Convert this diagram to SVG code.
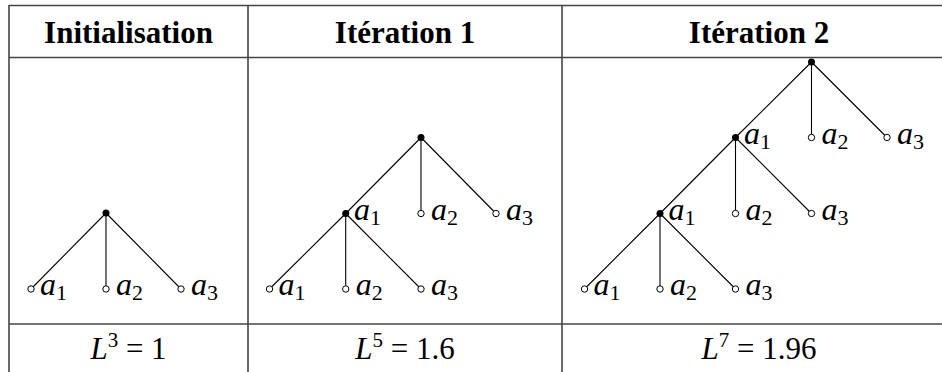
<svg xmlns="http://www.w3.org/2000/svg" width="942" height="372" viewBox="0 0 942 372">
<style>
.grid{stroke:#444;stroke-width:1.6;fill:none}
.hd{font-family:"Liberation Serif",serif;font-weight:bold;font-size:31px;text-anchor:middle;fill:#000}
.m{font-family:"Liberation Serif",serif;font-style:italic;font-size:32px;fill:#000}
.sub{font-style:normal;font-size:22px}
.ft{font-family:"Liberation Serif",serif;font-size:31px;text-anchor:middle;fill:#000}
.e{stroke:#000;stroke-width:1.1;fill:none}
.in{fill:#000}
.lf{fill:#fff;stroke:#000;stroke-width:1}
</style>
<g id="table">
<line class="grid" x1="9" y1="5.5" x2="942" y2="5.5"/>
<line class="grid" x1="9" y1="57.5" x2="942" y2="57.5"/>
<line class="grid" x1="9" y1="324" x2="942" y2="324"/>
<line class="grid" x1="9" y1="5" x2="9" y2="372"/>
<line class="grid" x1="248" y1="5" x2="248" y2="372"/>
<line class="grid" x1="562" y1="5" x2="562" y2="372"/>
</g>
<g id="headers">
<text class="hd" x="128.5" y="43">Initialisation</text>
<text class="hd" x="405" y="43">Itération 1</text>
<text class="hd" x="759" y="43">Itération 2</text>
</g>
<g id="connectors">
<path class="e" d="M106 213L31 289M106 213L106 289M106 213L181 289"/>
<path class="e" d="M421 137.5L345.7 213.5M421 137.5L421 213.5M421 137.5L496 213.5M345.7 213.5L269.5 289M345.7 213.5L345.7 289M345.7 213.5L421 289"/>
<path class="e" d="M811.5 62L735.5 137.5M811.5 62L811.5 137.5M811.5 62L887 137.5M735.5 137.5L660 213.5M735.5 137.5L735.5 213.5M735.5 137.5L811.5 213.5M660 213.5L584.5 289M660 213.5L660 289M660 213.5L735.5 289"/>
</g>
<g id="col1">
<g id="c1-root"><circle class="in" cx="106" cy="213" r="3.5"/></g>
<g id="c1-a1"><circle class="lf" cx="31" cy="289" r="3.2"/><text class="m" x="40" y="295">a<tspan class="sub" dy="5">1</tspan></text></g>
<g id="c1-a2"><circle class="lf" cx="106" cy="289" r="3.2"/><text class="m" x="116" y="295">a<tspan class="sub" dy="5">2</tspan></text></g>
<g id="c1-a3"><circle class="lf" cx="181" cy="289" r="3.2"/><text class="m" x="191" y="295">a<tspan class="sub" dy="5">3</tspan></text></g>
</g>
<g id="col2">
<g id="c2-root"><circle class="in" cx="421" cy="137.5" r="3.5"/></g>
<g id="c2-n1"><circle class="in" cx="345.7" cy="213.5" r="3.5"/><text class="m" x="354" y="219.5">a<tspan class="sub" dy="5">1</tspan></text></g>
<g id="c2-a2"><circle class="lf" cx="421" cy="213.5" r="3.2"/><text class="m" x="431" y="219.5">a<tspan class="sub" dy="5">2</tspan></text></g>
<g id="c2-a3"><circle class="lf" cx="496" cy="213.5" r="3.2"/><text class="m" x="506" y="219.5">a<tspan class="sub" dy="5">3</tspan></text></g>
<g id="c2-b1"><circle class="lf" cx="269.5" cy="289" r="3.2"/><text class="m" x="278.5" y="295">a<tspan class="sub" dy="5">1</tspan></text></g>
<g id="c2-b2"><circle class="lf" cx="345.7" cy="289" r="3.2"/><text class="m" x="355.7" y="295">a<tspan class="sub" dy="5">2</tspan></text></g>
<g id="c2-b3"><circle class="lf" cx="421" cy="289" r="3.2"/><text class="m" x="431" y="295">a<tspan class="sub" dy="5">3</tspan></text></g>
</g>
<g id="col3">
<g id="c3-root"><circle class="in" cx="811.5" cy="62" r="3.5"/></g>
<g id="c3-n1"><circle class="in" cx="735.5" cy="137.5" r="3.5"/><text class="m" x="744" y="143.5">a<tspan class="sub" dy="5">1</tspan></text></g>
<g id="c3-a2"><circle class="lf" cx="811.5" cy="137.5" r="3.2"/><text class="m" x="821.5" y="143.5">a<tspan class="sub" dy="5">2</tspan></text></g>
<g id="c3-a3"><circle class="lf" cx="887" cy="137.5" r="3.2"/><text class="m" x="897" y="143.5">a<tspan class="sub" dy="5">3</tspan></text></g>
<g id="c3-n2"><circle class="in" cx="660" cy="213.5" r="3.5"/><text class="m" x="668.5" y="219.5">a<tspan class="sub" dy="5">1</tspan></text></g>
<g id="c3-b2"><circle class="lf" cx="735.5" cy="213.5" r="3.2"/><text class="m" x="745.5" y="219.5">a<tspan class="sub" dy="5">2</tspan></text></g>
<g id="c3-b3"><circle class="lf" cx="811.5" cy="213.5" r="3.2"/><text class="m" x="821.5" y="219.5">a<tspan class="sub" dy="5">3</tspan></text></g>
<g id="c3-c1"><circle class="lf" cx="584.5" cy="289" r="3.2"/><text class="m" x="593.5" y="295">a<tspan class="sub" dy="5">1</tspan></text></g>
<g id="c3-c2"><circle class="lf" cx="660" cy="289" r="3.2"/><text class="m" x="670" y="295">a<tspan class="sub" dy="5">2</tspan></text></g>
<g id="c3-c3"><circle class="lf" cx="735.5" cy="289" r="3.2"/><text class="m" x="745.5" y="295">a<tspan class="sub" dy="5">3</tspan></text></g>
</g>
<g id="footer">
<text class="ft" x="128.5" y="359"><tspan font-style="italic">L</tspan><tspan font-size="21" dy="-12">3</tspan><tspan dy="12"> = 1</tspan></text>
<text class="ft" x="405" y="359"><tspan font-style="italic">L</tspan><tspan font-size="21" dy="-12">5</tspan><tspan dy="12"> = 1.6</tspan></text>
<text class="ft" x="759" y="359"><tspan font-style="italic">L</tspan><tspan font-size="21" dy="-12">7</tspan><tspan dy="12"> = 1.96</tspan></text>
</g>
</svg>
